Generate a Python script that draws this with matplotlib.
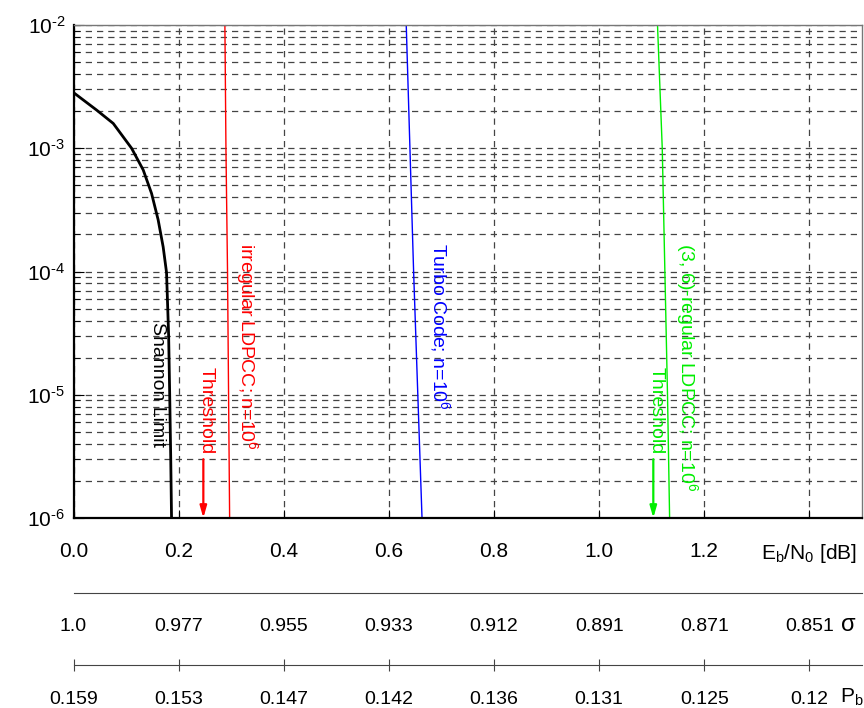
import matplotlib.pyplot as plt
import matplotlib.ticker as mticker
import numpy as np

plt.rcParams['font.family'] = ['Liberation Sans', 'DejaVu Sans']
plt.rcParams['mathtext.fontset'] = 'custom'
plt.rcParams['mathtext.rm'] = 'Liberation Sans'
plt.rcParams['mathtext.it'] = 'Liberation Sans'
plt.rcParams['mathtext.default'] = 'regular'
plt.rcParams['axes.unicode_minus'] = False

# Eb/N0 axis and the two extra scales under it
ebn0_ticks = [0.0, 0.2, 0.4, 0.6, 0.8, 1.0, 1.2, 1.4]
ebn0_labels = ['0.0', '0.2', '0.4', '0.6', '0.8', '1.0', '1.2', r'E$_b$/N$_0$ [dB]']
sigma_labels = ['1.0', '0.977', '0.955', '0.933', '0.912', '0.891', '0.871', '0.851']
pb_labels = ['0.159', '0.153', '0.147', '0.142', '0.136', '0.131', '0.125', '0.12']

shannon_x = [0.0, 0.044, 0.0756, 0.1105, 0.1326, 0.1485, 0.161, 0.1706, 0.177,
             0.181, 0.183, 0.185, 0.1865]
shannon_y = [2.83e-3, 2.04e-3, 1.59e-3, 1.0e-3, 6.67e-4, 4.3e-4, 2.63e-4, 1.58e-4, 9.8e-5,
             3e-5, 1e-5, 3e-6, 1e-6]

irr_x = [0.288, 0.290, 0.293, 0.295, 0.297]
irr_y = [1e-2, 1e-3, 1e-4, 1e-5, 1e-6]
turbo_x = [0.633, 0.640, 0.647, 0.655, 0.663]
turbo_y = [1e-2, 1e-3, 1e-4, 1e-5, 1e-6]
reg_x = [1.111, 1.120, 1.125, 1.130, 1.134]
reg_y = [1e-2, 1e-3, 1e-4, 1e-5, 1e-6]

thr_irr = 0.247
thr_reg = 1.103

fig = plt.figure(figsize=(8.64, 7.08), dpi=100)
W, H = 864, 708
left, right = 73.5 / W, 862 / W
ax = fig.add_axes([left, 1 - 518 / H, right - left, (518 - 25) / H])

ax.plot(shannon_x, shannon_y, color='black', lw=2)
ax.plot(irr_x, irr_y, color='#ff0000', lw=1)
ax.plot(turbo_x, turbo_y, color='#0000ff', lw=1)
ax.plot(reg_x, reg_y, color='#00ee00', lw=1)

ax.set_yscale('log')
ax.set_ylim(1e-6, 1e-2)
ax.set_xlim(0, 1.5)

# thresholds
for x, c in [(thr_irr, '#ff0000'), (thr_reg, '#00ee00')]:
    ax.annotate('', xy=(x, 1e-6), xytext=(x, 3e-6),
                arrowprops=dict(arrowstyle='-|>,head_length=0.7,head_width=0.2',
                                color=c, lw=1.6, shrinkA=0, shrinkB=0))
    ax.text(x + 0.005, 1.68e-5, 'Threshold', color=c, rotation=-90,
            ha='center', va='top', fontsize=14)

ax.text(0.1605, 3.9e-5, 'Shannon Limit', rotation=-90, ha='center', va='top', fontsize=14)
ax.text(0.330, 1.7e-4, r'irregular LDPCC; n=10$^6$', color='#ff0000', rotation=-90,
        ha='center', va='top', fontsize=14)
ax.text(0.698, 1.7e-4, r'Turbo Code; n=10$^6$', color='#0000ff', rotation=-90,
        ha='center', va='top', fontsize=14)
ax.text(1.167, 1.7e-4, r'(3, 6)-regular LDPCC; n=10$^6$', color='#00ee00', rotation=-90,
        ha='center', va='top', fontsize=14)

ax.set_xticks(ebn0_ticks)
ax.set_xticklabels(ebn0_labels)
ax.yaxis.set_major_formatter(mticker.FuncFormatter(
    lambda v, p: '$10^{\u2010%d}$' % round(-np.log10(v))))
ax.tick_params(axis='both', which='both', direction='in', labelsize=15)
ax.tick_params(axis='x', pad=17, length=6)
ax.tick_params(axis='y', which='major', length=7, pad=6)
ax.tick_params(axis='y', which='minor', length=4)
ax.grid(True, which='both', color='#444444', linestyle=(0, (5, 4)), lw=0.9)
ax.grid(False, which='minor', axis='x')
for s in ['left', 'bottom']:
    ax.spines[s].set_linewidth(1.6)
for s in ['top', 'right']:
    ax.spines[s].set_color('#777777')
    ax.spines[s].set_linewidth(1)

# sigma scale
ax2 = fig.add_axes([left, 1 - 593 / H, right - left, 1e-4])
ax2.set_xlim(0, 1.5)
ax2.set_yticks([])
for s in ['left', 'top', 'right']:
    ax2.spines[s].set_visible(False)
ax2.spines['bottom'].set_color('#444444')
ax2.set_xticks(ebn0_ticks)
ax2.set_xticklabels(sigma_labels)
ax2.tick_params(axis='x', length=0, pad=18, labelsize=14)
fig.text(848 / W, 1 - 625 / H, '\u03c3', fontsize=17, ha='center', va='center')

# Pb scale
ax3 = fig.add_axes([left, 1 - 665 / H, right - left, 1e-4])
ax3.set_xlim(0, 1.5)
ax3.set_yticks([])
for s in ['left', 'top', 'right']:
    ax3.spines[s].set_visible(False)
ax3.spines['bottom'].set_color('#444444')
ax3.set_xticks(ebn0_ticks)
ax3.set_xticklabels(pb_labels)
ax3.tick_params(axis='x', direction='inout', length=9, pad=14, labelsize=14, color='#444444')
fig.text(840 / W, 1 - 697 / H, r'P$_b$', fontsize=15, ha='left', va='center')

fig.savefig('out.png', dpi=100)
